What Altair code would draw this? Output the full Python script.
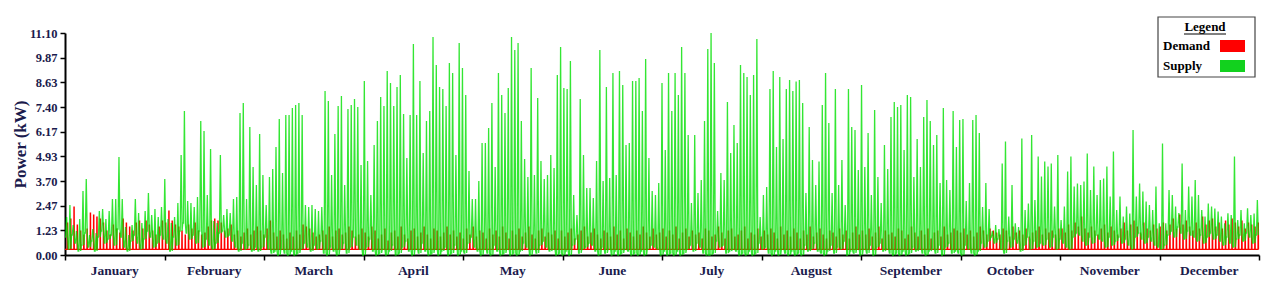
import altair as alt
import pandas as pd

# ---------------- data ----------------
months = ["January", "February", "March", "April", "May", "June",
          "July", "August", "September", "October", "November", "December"]
month_days = [31, 28, 31, 30, 31, 30, 31, 31, 30, 31, 30, 31]
y_ticks = [0.00, 1.23, 2.47, 3.70, 4.93, 6.17, 7.40, 8.63, 9.87, 11.10]
month_bounds = [0, 730, 1460, 2190, 2920, 3650, 4380, 5110, 5840, 6570, 7300, 8030, 8760]
month_centers = [365, 1095, 1825, 2555, 3285, 4015, 4745, 5475, 6205, 6935, 7665, 8395]

# daily supply peak (kW)
supply_peak = [
    [1.9, 2.5, 1.5, 1.2, 1.8, 3.2, 3.8, 1.0, 1.3, 1.1, 2.2, 2.3, 1.8, 2.2, 2.8, 2.8, 4.9, 2.8, 1.4, 1.0, 1.5, 2.8, 2.1, 1.6, 2.2, 3.1, 2.0, 2.3, 1.9, 2.4, 3.8],
    [1.8, 1.6, 1.9, 2.6, 5.0, 7.2, 2.7, 2.6, 2.4, 2.9, 6.7, 6.2, 3.0, 5.3, 1.7, 1.6, 5.0, 2.0, 2.3, 2.1, 2.8, 2.9, 7.1, 7.6, 2.8, 6.4, 4.4, 3.5],
    [6.05, 4.0, 2.5, 3.9, 4.3, 5.4, 6.8, 4.1, 7.0, 7.0, 7.35, 7.5, 7.6, 7.0, 2.5, 2.4, 2.5, 2.3, 2.2, 2.4, 8.2, 7.7, 4.0, 6.05, 7.45, 7.95, 3.5, 7.3, 7.5, 7.8, 7.4],
    [4.5, 8.7, 4.7, 3.0, 5.5, 6.7, 7.9, 7.45, 9.2, 8.6, 7.45, 8.4, 9.0, 7.05, 4.85, 7.0, 10.55, 7.0, 8.7, 5.1, 6.7, 7.2, 10.9, 9.5, 8.4, 8.3, 7.45, 9.6, 9.1, 5.0],
    [10.6, 9.35, 8.0, 4.2, 2.8, 2.8, 3.7, 5.6, 5.6, 6.35, 7.6, 4.4, 9.1, 8.0, 7.1, 8.35, 10.9, 10.25, 10.6, 6.7, 4.8, 3.9, 9.35, 4.0, 7.85, 4.7, 3.8, 4.0, 5.0, 4.35, 9.0],
    [10.4, 8.35, 8.3, 9.7, 3.0, 2.0, 7.8, 5.0, 3.35, 3.35, 2.85, 4.7, 10.25, 3.7, 8.4, 3.85, 9.1, 4.0, 9.2, 8.5, 5.5, 5.6, 8.7, 8.7, 8.85, 7.2, 9.8, 4.85, 3.2, 3.0],
    [3.6, 8.6, 5.25, 9.1, 7.2, 9.1, 8.0, 10.4, 9.1, 6.0, 2.6, 6.0, 3.1, 3.75, 6.7, 10.3, 11.1, 9.6, 2.2, 4.1, 3.75, 7.65, 5.1, 6.5, 5.6, 9.5, 9.1, 8.9, 8.0, 9.0, 10.8],
    [1.9, 3.0, 3.4, 8.3, 9.2, 5.4, 8.9, 5.8, 8.3, 8.75, 8.2, 8.67, 8.75, 7.6, 3.1, 6.4, 4.75, 3.5, 4.67, 7.5, 9.1, 6.6, 3.1, 8.3, 3.5, 4.75, 2.5, 8.3, 6.4, 6.25, 4.25],
    [8.5, 4.4, 6.1, 3.0, 7.25, 3.9, 2.6, 5.5, 4.3, 6.9, 7.65, 7.4, 7.5, 5.25, 8.0, 7.9, 3.9, 5.8, 4.4, 6.9, 7.75, 6.7, 5.5, 6.0, 3.6, 7.35, 3.75, 3.25, 7.2, 5.4],
    [6.75, 6.8, 2.7, 3.6, 6.75, 7.0, 6.1, 2.4, 3.6, 2.3, 1.2, 1.5, 1.3, 4.58, 5.67, 1.92, 3.5, 1.58, 1.4, 5.83, 2.25, 2.58, 6.0, 2.75, 4.92, 3.92, 4.67, 4.42, 4.58, 2.42, 5.0],
    [1.75, 2.42, 4.17, 4.92, 3.42, 3.58, 3.5, 3.67, 5.08, 3.25, 4.42, 3.0, 3.75, 3.83, 4.42, 2.92, 5.17, 2.25, 2.92, 1.92, 2.42, 2.08, 6.25, 2.92, 3.58, 3.17, 2.67, 2.5, 2.25, 3.42],
    [1.58, 5.58, 1.58, 3.25, 3.0, 2.42, 2.1, 4.58, 2.25, 3.42, 2.92, 3.75, 3.0, 2.25, 1.92, 2.58, 2.42, 2.33, 2.17, 1.92, 1.58, 2.08, 2.0, 4.92, 1.75, 2.25, 1.58, 2.33, 2.0, 2.08, 2.75],
]

# daily supply level outside the midday peak (kW)
supply_low = [
    [0.9, 0.3, 1.0, 0.6, 0.2, 0.5, 1.1, 0.4, 0.7, 0.2, 0.9, 1.2, 0.6, 0.8, 1.0, 0.5, 1.3, 0.9, 0.4, 0.2, 0.7, 1.0, 0.6, 0.3, 0.8, 1.2, 0.9, 0.4, 0.6, 1.0, 0.8],
    [0.6, 0.2, 0.9, 0.5, 1.2, 1.6, 1.1, 0.8, 1.0, 0.6, 1.2, 0.4, 0.8, 0.5, 0.3, 0.6, 1.1, 1.2, 0.9, 1.0, 0.7, 0.4, 0.2, 0.6, 0.3, 0.5, 0.2, 0.4],
    [0.2, 0.4, 0.9, 0.3, 0.1, 0.2, 0.0, 0.3, 0.1, 0.0, 0.2, 0.0, 0.1, 0.3, 0.6, 0.4, 0.2, 0.5, 0.3, 0.7, 0.1, 0.0, 0.4, 0.2, 0.0, 0.3, 0.6, 0.1, 0.4, 0.9, 0.5],
    [0.3, 0.0, 0.4, 0.8, 0.2, 0.0, 0.1, 0.3, 0.0, 0.2, 0.5, 0.0, 0.1, 0.4, 0.7, 0.2, 0.0, 0.3, 0.1, 0.6, 0.2, 0.0, 0.1, 0.3, 0.0, 0.2, 0.4, 0.0, 0.1, 0.5],
    [0.0, 0.2, 0.1, 0.6, 0.9, 0.4, 0.2, 0.0, 0.3, 0.1, 0.0, 0.5, 0.2, 0.0, 0.1, 0.3, 0.0, 0.1, 0.0, 0.2, 0.6, 0.4, 0.0, 0.3, 0.1, 0.5, 0.7, 0.4, 0.2, 0.3, 0.0],
    [0.1, 0.0, 0.2, 0.0, 0.5, 0.8, 0.1, 0.3, 0.4, 0.6, 0.5, 0.2, 0.0, 0.4, 0.1, 0.3, 0.0, 0.2, 0.0, 0.1, 0.3, 0.2, 0.0, 0.1, 0.0, 0.2, 0.0, 0.3, 0.5, 0.4],
    [0.3, 0.0, 0.2, 0.0, 0.1, 0.0, 0.2, 0.0, 0.1, 0.3, 0.5, 0.2, 0.6, 0.4, 0.1, 0.0, 0.0, 0.1, 0.7, 0.4, 0.5, 0.1, 0.2, 0.3, 0.2, 0.0, 0.1, 0.0, 0.2, 0.0, 0.1],
    [0.6, 0.3, 0.4, 0.1, 0.0, 0.2, 0.0, 0.3, 0.1, 0.0, 0.2, 0.0, 0.1, 0.0, 0.5, 0.2, 0.3, 0.6, 0.2, 0.1, 0.0, 0.2, 0.5, 0.1, 0.4, 0.3, 0.7, 0.0, 0.2, 0.1, 0.3],
    [0.0, 0.3, 0.1, 0.5, 0.0, 0.4, 0.6, 0.2, 0.3, 0.1, 0.0, 0.1, 0.0, 0.2, 0.0, 0.1, 0.4, 0.2, 0.3, 0.1, 0.0, 0.2, 0.3, 0.1, 0.5, 0.0, 0.4, 0.6, 0.1, 0.2],
    [0.1, 0.0, 0.5, 0.3, 0.1, 0.0, 0.2, 0.6, 0.4, 0.7, 0.9, 0.6, 0.8, 0.3, 0.1, 0.7, 0.4, 0.8, 0.6, 0.2, 0.5, 0.9, 0.3, 0.7, 0.4, 0.6, 0.5, 0.8, 0.4, 0.9, 0.3],
    [0.8, 0.6, 0.4, 0.3, 0.9, 1.1, 1.0, 0.7, 0.5, 0.9, 0.6, 1.0, 0.8, 0.7, 0.4, 0.9, 0.5, 0.7, 0.9, 0.6, 0.8, 0.5, 0.3, 0.9, 1.1, 0.8, 0.6, 0.9, 0.7, 0.5],
    [0.4, 0.3, 0.5, 1.0, 1.2, 0.9, 1.4, 1.1, 0.8, 1.2, 1.0, 0.9, 0.7, 1.0, 0.6, 0.9, 1.1, 0.8, 1.0, 0.7, 0.5, 0.9, 0.6, 0.4, 0.8, 1.0, 0.7, 1.1, 0.9, 0.6, 1.0],
]

# daily demand peak (kW) and standby demand
demand_peak = [
    [1.6, 1.8, 2.4, 1.5, 1.2, 1.0, 1.3, 2.1, 2.0, 1.9, 1.8, 1.6, 1.2, 1.0, 1.5, 1.3, 1.1, 1.8, 1.6, 1.4, 1.2, 1.6, 1.7, 1.3, 1.7, 1.5, 1.2, 1.0, 1.4, 1.7, 1.6],
    [2.2, 1.7, 1.5, 1.4, 1.2, 1.0, 1.5, 1.3, 1.6, 1.2, 1.0, 1.1, 1.4, 1.7, 1.8, 1.7, 1.6, 1.2, 1.3, 1.5, 1.0, 1.2, 0.9, 1.1, 1.3, 1.0, 1.2, 1.4],
    [1.2, 1.0, 1.3, 1.7, 1.1, 0.9, 1.2, 1.0, 0.8, 1.1, 0.9, 1.2, 1.0, 1.5, 1.4, 1.3, 1.1, 0.9, 1.0, 1.2, 1.0, 1.4, 0.9, 1.2, 1.3, 1.0, 1.1, 1.4, 1.2, 0.9, 1.0],
    [1.3, 1.1, 0.9, 1.4, 1.2, 0.8, 1.0, 1.3, 0.7, 1.1, 1.2, 0.9, 1.4, 1.0, 0.8, 1.2, 1.3, 0.9, 1.1, 1.4, 1.0, 0.8, 1.3, 1.2, 0.9, 1.1, 1.4, 1.0, 1.2, 0.9],
    [1.1, 0.8, 1.3, 1.0, 1.4, 0.9, 1.2, 1.1, 0.8, 1.3, 1.0, 1.2, 0.9, 1.4, 1.1, 0.8, 1.2, 1.0, 1.3, 0.9, 1.1, 1.4, 1.0, 0.8, 1.2, 1.3, 0.9, 1.1, 1.0, 1.2, 0.8],
    [1.2, 0.9, 1.1, 1.3, 0.8, 1.0, 1.2, 1.4, 0.9, 1.1, 1.3, 1.0, 0.8, 1.2, 1.1, 0.9, 1.4, 1.0, 1.2, 0.8, 1.3, 1.1, 0.9, 1.2, 1.0, 1.4, 1.1, 0.9, 1.3, 1.0],
    [1.1, 1.3, 0.9, 1.2, 1.0, 1.4, 0.8, 1.1, 1.3, 0.9, 1.2, 1.0, 1.1, 0.8, 1.3, 1.2, 0.9, 1.0, 1.4, 1.1, 0.8, 1.2, 1.3, 0.9, 1.0, 1.2, 1.4, 0.8, 1.1, 1.0, 1.3],
    [0.9, 1.2, 1.0, 1.3, 1.1, 0.8, 1.4, 1.0, 1.2, 0.9, 1.3, 1.1, 0.8, 1.2, 1.0, 1.4, 0.9, 1.1, 1.3, 1.0, 0.8, 1.2, 1.1, 0.9, 1.3, 1.0, 1.2, 0.8, 1.1, 1.4, 1.0],
    [1.2, 1.0, 1.3, 0.9, 1.1, 1.4, 0.8, 1.2, 1.0, 1.1, 0.9, 1.3, 1.2, 0.8, 1.0, 1.4, 1.1, 0.9, 1.2, 1.0, 1.3, 0.8, 1.1, 1.2, 0.9, 1.4, 1.0, 1.1, 1.3, 1.2],
    [1.1, 1.3, 1.0, 1.2, 0.9, 1.1, 1.4, 1.2, 1.0, 1.3, 1.2, 1.1, 1.0, 1.3, 1.2, 0.9, 1.4, 1.1, 1.2, 1.0, 1.3, 0.9, 1.1, 1.2, 1.4, 1.0, 1.3, 1.1, 1.2, 1.0, 1.3],
    [1.3, 1.1, 1.5, 1.2, 1.6, 1.4, 1.9, 1.3, 1.1, 1.4, 1.2, 1.0, 1.3, 1.5, 1.1, 1.4, 1.2, 1.0, 1.3, 1.6, 1.2, 1.5, 1.7, 1.4, 1.1, 1.6, 1.3, 1.2, 1.5, 1.3],
    [1.4, 1.6, 1.2, 1.5, 1.8, 1.3, 2.0, 1.5, 1.7, 1.4, 1.2, 1.6, 1.3, 1.9, 1.5, 1.7, 1.8, 1.4, 1.6, 1.3, 1.7, 1.5, 1.8, 1.6, 1.4, 1.7, 1.3, 1.6, 1.5, 1.4, 1.6],
]
demand_base = 0.28

series_names = ["Demand", "Supply"]
series_colors = ["#ff0000", "#12d11e"]

# ---------------- build the plotted tables from the arrays ----------------
supply_rows, demand_rows = [], []
day = 0
for m in range(12):
    for i in range(month_days[m]):
        h0 = 24 * day
        lo = supply_low[m][i]
        pk = supply_peak[m][i]
        for dh, v in [(0, lo), (5, lo), (12, pk), (19, lo)]:
            supply_rows.append({"hour": h0 + dh, "kw": v})
        dp = demand_peak[m][i]
        for dh, v in [(0, demand_base), (16, demand_base), (17, dp),
                      (20, dp), (21, demand_base)]:
            demand_rows.append({"hour": h0 + dh, "kw": v})
        day += 1

supply_df = pd.DataFrame(supply_rows)
demand_df = pd.DataFrame(demand_rows)
month_df = pd.DataFrame({"month": months, "center": month_centers})

NAVY = "#1b1b4d"
FONT = "Liberation Serif"
W, H = 1194, 222

x_scale = alt.Scale(domain=[0, 8760], nice=False, zero=False)
y_scale = alt.Scale(domain=[0, 11.1], nice=False)

x_axis = alt.Axis(values=month_bounds, tickCount=len(month_bounds), labels=False,
                  title=None, grid=False,
                  domainColor="black", domainWidth=2, tickColor="black",
                  tickWidth=1.5, tickSize=5)
y_axis = alt.Axis(values=y_ticks, tickCount=len(y_ticks), format=".2f", grid=False,
                  title="Power (kW)", labelOverlap=False, labelFlush=False,
                  domainColor="black", domainWidth=2, tickColor="black",
                  tickWidth=1.5, tickSize=5, labelFont=FONT, labelFontSize=12.5,
                  labelFontWeight="bold", labelColor=NAVY, labelPadding=3,
                  titleFont=FONT, titleFontSize=17, titleFontWeight="bold",
                  titleColor=NAVY, titlePadding=0)

demand_line = alt.Chart(demand_df).mark_line(
    color=series_colors[0], strokeWidth=1.1
).encode(
    x=alt.X("hour:Q", scale=x_scale, axis=x_axis),
    y=alt.Y("kw:Q", scale=y_scale, axis=y_axis),
)

supply_line = alt.Chart(supply_df).mark_line(
    color="#00e000", strokeWidth=1.3, opacity=0.8
).encode(
    x=alt.X("hour:Q", scale=x_scale),
    y=alt.Y("kw:Q", scale=y_scale),
)

month_labels = alt.Chart(month_df).mark_text(
    font=FONT, fontSize=13.5, fontWeight=600, color=NAVY, baseline="middle"
).encode(
    x=alt.X("center:Q", scale=x_scale),
    y=alt.value(H + 16),
    text="month:N",
)

# ---------------- legend box ----------------
one = pd.DataFrame({"k": [0]})
legend_box = alt.Chart(one).mark_rect(
    fill="white", stroke="#444444", strokeWidth=1.2
).encode(x=alt.value(1093), x2=alt.value(1190), y=alt.value(-16), y2=alt.value(44))
legend_title = alt.Chart(one).mark_text(
    font=FONT, fontSize=13, fontWeight="bold", color="black", align="center", baseline="middle"
).encode(x=alt.value(1140), y=alt.value(-6), text=alt.value("Legend"))
legend_underline = alt.Chart(one).mark_rule(color="black", strokeWidth=1).encode(
    x=alt.value(1119), x2=alt.value(1161), y=alt.value(1))

legend_layers = []
for k, (name, col) in enumerate(zip(series_names, series_colors)):
    yc = 13 + 20 * k
    legend_layers.append(
        alt.Chart(one).mark_text(
            font=FONT, fontSize=13, fontWeight="bold", color="black",
            align="left", baseline="middle"
        ).encode(x=alt.value(1098), y=alt.value(yc), text=alt.value(name))
    )
    legend_layers.append(
        alt.Chart(one).mark_rect(fill=col).encode(
            x=alt.value(1155), x2=alt.value(1180),
            y=alt.value(yc - 6), y2=alt.value(yc + 6))
    )

chart = alt.layer(
    demand_line, supply_line, month_labels,
    legend_box, legend_title, legend_underline, *legend_layers,
).properties(
    width=W, height=H,
    padding={"left": 65, "top": 33, "right": 10, "bottom": 40},
    autosize=alt.AutoSizeParams(type="none"),
    background="white",
).configure_view(stroke=None)

chart.save("out.html", embed_options={"renderer": "svg", "actions": False})
